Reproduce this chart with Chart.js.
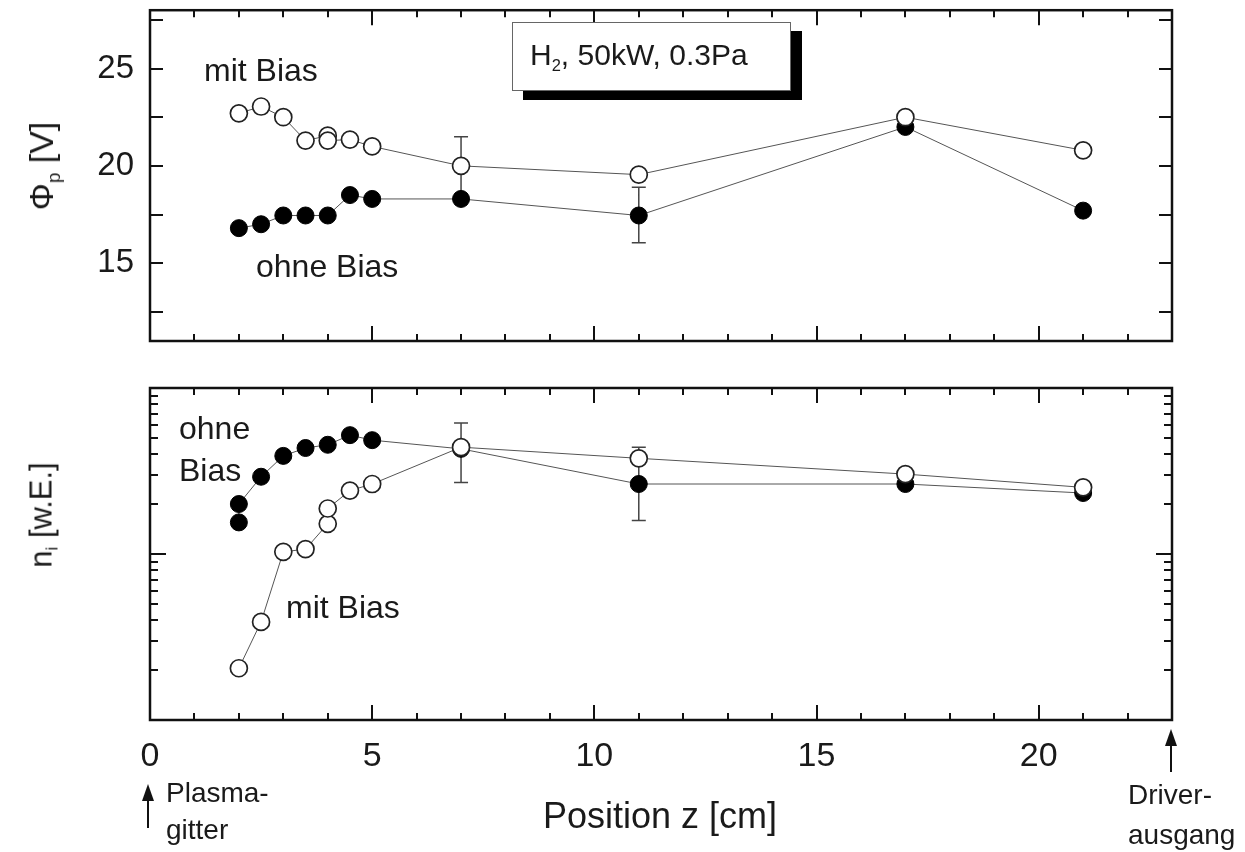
<!DOCTYPE html>
<html>
<head>
<meta charset="utf-8">
<script src="https://cdn.jsdelivr.net/npm/chart.js"></script>
<style>
  html, body { margin: 0; padding: 0; background: #fff; }
  #wrap { position: relative; width: 1245px; height: 852px; overflow: hidden; background: #fff;
          font-family: "Liberation Sans", Arial, sans-serif; color: #1a1a1a; }
  canvas { position: absolute; left: 0; }
  .t { position: absolute; white-space: nowrap; line-height: 1; }
  .rot { position: absolute; white-space: nowrap; line-height: 1; transform: translate(-50%, -50%) rotate(-90deg); }
  sub { font-size: 0.55em; vertical-align: -0.35em; line-height: 0; }
  #box { position: absolute; left: 512px; top: 22px; width: 277px; height: 67px; background: #fff;
         border: 1.5px solid #666; box-shadow: 11px 9px 0 #000; }
</style>
</head>
<body>
<div id="wrap">
  <canvas id="c1" width="1245" height="352" style="top:0"></canvas>
  <canvas id="c2" width="1245" height="500" style="top:352px"></canvas>

  <div id="box"><div class="t" style="left:17px; top:17px; font-size:30px;">H<sub>2</sub>, 50kW, 0.3Pa</div></div>

  <div class="t" style="left:204px; top:54px; font-size:32px;">mit Bias</div>
  <div class="t" style="left:256px; top:250px; font-size:32px;">ohne Bias</div>
  <div class="t" style="left:179px; top:412px; font-size:32px;">ohne</div>
  <div class="t" style="left:179px; top:454px; font-size:32px;">Bias</div>
  <div class="t" style="left:286px; top:591px; font-size:32px;">mit Bias</div>

  <div class="rot" style="left:41px; top:166px; font-size:34px;">&Phi;<sub>p</sub> [V]</div>
  <div class="rot" style="left:41px; top:515px; font-size:31px;">n<sub>i</sub> [w.E.]</div>

  <div class="t" style="left:543px; top:798px; font-size:36px;">Position z [cm]</div>
  <div class="t" style="left:166px; top:779px; font-size:28px;">Plasma-</div>
  <div class="t" style="left:166px; top:816px; font-size:28px;">gitter</div>
  <div class="t" style="left:1128px; top:781px; font-size:28px;">Driver-</div>
  <div class="t" style="left:1128px; top:821px; font-size:28px;">ausgang</div>

  <svg width="1245" height="852" style="position:absolute;left:0;top:0;pointer-events:none">
    <line x1="148" y1="796" x2="148" y2="828" stroke="#111" stroke-width="2"/>
    <polygon points="148,784 142,801 154,801" fill="#111"/>
    <line x1="1171" y1="741" x2="1171" y2="772" stroke="#111" stroke-width="2"/>
    <polygon points="1171,729 1165,746 1177,746" fill="#111"/>
  </svg>
</div>

<script>
// ---------- data ----------
// Top panel: plasma potential Phi_p [V]
const zPhiMit  = [2, 2.5, 3, 3.5, 4, 4, 4.5, 5, 7, 11, 17, 21];
const phiMit   = [22.7, 23.05, 22.5, 21.3, 21.55, 21.3, 21.35, 21.0, 20.0, 19.55, 22.5, 20.8];
const zPhiOhne = [2, 2.5, 3, 3.5, 4, 4.5, 5, 7, 11, 17, 21];
const phiOhne  = [16.8, 17.0, 17.45, 17.45, 17.45, 18.5, 18.3, 18.3, 17.45, 22.0, 17.7];
// error bars (top)
const phiErrZ  = [7, 11];
const phiErrLo = [18.5, 16.05];
const phiErrHi = [21.5, 18.9];

// Bottom panel: ion density n_i [w.E.] (log scale)
const zNiOhne = [2, 2, 2.5, 3, 3.5, 4, 4.5, 5, 7, 11, 17, 21];
const niOhne  = [1.55, 2.0, 2.92, 3.9, 4.35, 4.55, 5.2, 4.85, 4.3, 2.64, 2.64, 2.33];
const zNiMit  = [2, 2.5, 3, 3.5, 4, 4, 4.5, 5, 7, 11, 17, 21];
const niMit   = [0.205, 0.39, 1.03, 1.07, 1.52, 1.88, 2.41, 2.64, 4.4, 3.77, 3.03, 2.52];
const niErrZ  = [7, 11];
const niErrLo = [2.7, 1.59];
const niErrHi = [6.15, 4.4];

// axes / ticks
const xMin = 0, xMax = 23;
const xLabelTicks = [0, 5, 10, 15, 20];
const xTickMarks = [0,1,2,3,4,5,6,7,8,9,10,11,12,13,14,15,16,17,18,19,20,21,22,23];
const phiMin = 11, phiMax = 28;
const phiLabelTicks = [15, 20, 25];
const phiTickMarks = [12.5, 15, 17.5, 20, 22.5, 25, 27.5];
const niMin = 0.1, niMax = 10;
const niMajorTicks = [1];
const niMinorTicks = [0.2,0.3,0.4,0.5,0.6,0.7,0.8,0.9,2,3,4,5,6,7,8,9];

// ---------- helpers ----------
const pts = (xs, ys) => xs.map((x, i) => ({x, y: ys[i]}));
const errItems = (zs, lo, hi) => zs.map((z, i) => ({x: z, lo: lo[i], hi: hi[i]}));

const frameTicks = {
  id: 'frameTicks',
  afterDraw(chart, args, opts) {
    const {ctx, chartArea: a, scales} = chart;
    ctx.save();
    ctx.strokeStyle = '#111';
    ctx.lineWidth = 2;
    ctx.beginPath();
    xTickMarks.forEach(v => {
      const px = Math.round(scales.x.getPixelForValue(v));
      const L = (v % 5 === 0) ? 15 : 7;
      ctx.moveTo(px, a.bottom); ctx.lineTo(px, a.bottom - L);
      ctx.moveTo(px, a.top);    ctx.lineTo(px, a.top + L);
    });
    (opts.yTicks || []).forEach(t => {
      const py = Math.round(scales.y.getPixelForValue(t.v));
      ctx.moveTo(a.left, py);  ctx.lineTo(a.left + t.len, py);
      ctx.moveTo(a.right, py); ctx.lineTo(a.right - t.len, py);
    });
    ctx.stroke();
    ctx.lineWidth = 2.5;
    ctx.strokeRect(a.left, a.top, a.right - a.left, a.bottom - a.top);
    ctx.restore();
  }
};

const errBars = {
  id: 'errBars',
  beforeDatasetsDraw(chart, args, opts) {
    const {ctx, scales} = chart;
    ctx.save();
    ctx.strokeStyle = '#444';
    ctx.lineWidth = 1.5;
    ctx.beginPath();
    (opts.items || []).forEach(e => {
      const px = scales.x.getPixelForValue(e.x);
      const y1 = scales.y.getPixelForValue(e.lo);
      const y2 = scales.y.getPixelForValue(e.hi);
      ctx.moveTo(px, y1); ctx.lineTo(px, y2);
      ctx.moveTo(px - 7, y1); ctx.lineTo(px + 7, y1);
      ctx.moveTo(px - 7, y2); ctx.lineTo(px + 7, y2);
    });
    ctx.stroke();
    ctx.restore();
  }
};

const openSet = (data) => ({
  data, borderColor: '#555', borderWidth: 1, pointRadius: 8.5, pointHoverRadius: 8.5,
  pointBackgroundColor: '#fff', pointBorderColor: '#222', pointBorderWidth: 1.7, tension: 0
});
const fillSet = (data) => ({
  data, borderColor: '#555', borderWidth: 1, pointRadius: 8.5, pointHoverRadius: 8.5,
  pointBackgroundColor: '#000', pointBorderColor: '#000', pointBorderWidth: 1, tension: 0
});

const common = {
  responsive: false, animation: false, devicePixelRatio: 1,
  events: []
};

// ---------- top chart ----------
new Chart(document.getElementById('c1'), {
  type: 'line',
  data: { datasets: [ openSet(pts(zPhiMit, phiMit)), fillSet(pts(zPhiOhne, phiOhne)) ] },
  options: Object.assign({}, common, {
    layout: { padding: { top: 10, right: 73, bottom: 11, left: 0 } },
    scales: {
      x: { type: 'linear', min: xMin, max: xMax, display: false },
      y: {
        type: 'linear', min: phiMin, max: phiMax, position: 'left',
        afterFit: s => { s.width = 150; s.paddingTop = 0; s.paddingBottom = 0; },
        afterBuildTicks: s => { s.ticks = phiLabelTicks.map(v => ({value: v})); },
        grid: { display: false, drawTicks: false },
        border: { display: false },
        ticks: { padding: 16, color: '#1a1a1a', font: { family: 'Liberation Sans', size: 33 } }
      }
    },
    plugins: {
      legend: { display: false }, tooltip: { enabled: false },
      frameTicks: { yTicks: phiTickMarks.map(v => ({v, len: 13})) },
      errBars: { items: errItems(phiErrZ, phiErrLo, phiErrHi) }
    }
  }),
  plugins: [frameTicks, errBars]
});

// ---------- bottom chart ----------
new Chart(document.getElementById('c2'), {
  type: 'line',
  data: { datasets: [ openSet(pts(zNiMit, niMit)), fillSet(pts(zNiOhne, niOhne)) ] },
  options: Object.assign({}, common, {
    layout: { padding: { top: 36, right: 73, bottom: 0, left: 0 } },
    scales: {
      x: {
        type: 'linear', min: xMin, max: xMax, position: 'bottom',
        afterFit: s => { s.height = 132; s.paddingLeft = 0; s.paddingRight = 0; },
        afterBuildTicks: s => { s.ticks = xLabelTicks.map(v => ({value: v})); },
        grid: { display: false, drawTicks: false },
        border: { display: false },
        ticks: { padding: 16, maxRotation: 0, color: '#1a1a1a', font: { family: 'Liberation Sans', size: 34 } }
      },
      y: {
        type: 'logarithmic', min: niMin, max: niMax, position: 'left',
        afterFit: s => { s.width = 150; s.paddingTop = 0; s.paddingBottom = 0; },
        grid: { display: false, drawTicks: false },
        border: { display: false },
        ticks: { display: false }
      }
    },
    plugins: {
      legend: { display: false }, tooltip: { enabled: false },
      frameTicks: { yTicks: niMajorTicks.map(v => ({v, len: 16})).concat(niMinorTicks.map(v => ({v, len: 8}))) },
      errBars: { items: errItems(niErrZ, niErrLo, niErrHi) }
    }
  }),
  plugins: [frameTicks, errBars]
});
</script>
</body>
</html>
